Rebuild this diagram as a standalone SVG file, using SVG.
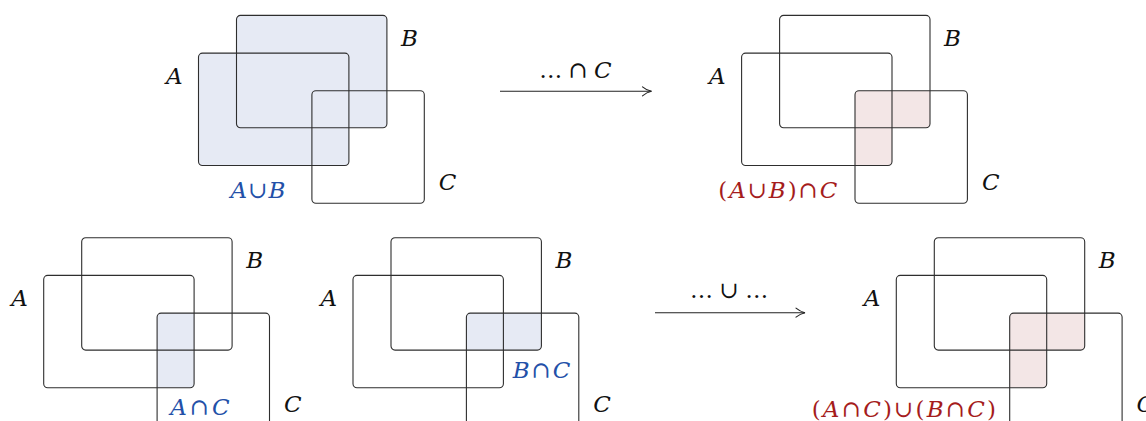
<svg xmlns="http://www.w3.org/2000/svg" width="1146" height="421" viewBox="0 0 1146 421">
<style>
.set{fill:none;stroke:#2e2e2e;stroke-width:1.1}
.lbl{font-family:"DejaVu Serif","Liberation Serif",serif;font-style:italic;font-size:23px;fill:#111}
.op{font-style:normal}
.blue{fill:#2350a8}
.red{fill:#a51c1c}
.fb{fill:#e6eaf4}
.fr{fill:#f3e6e6}
.conn{stroke:#222;stroke-width:1.1;fill:none}
</style>
<defs>
<rect id="rA" x="-38" y="37.7" width="150.4" height="112.4" rx="4"/>
<rect id="rB" x="0" y="0" width="150.4" height="112.4" rx="4"/>
<rect id="rC" x="75.4" y="75.4" width="112.4" height="112.4" rx="4"/>
<clipPath id="clipC"><use href="#rC"/></clipPath>
<g id="sets" class="set"><use href="#rA"/><use href="#rB"/><use href="#rC"/></g>
<marker id="to" markerUnits="userSpaceOnUse" markerWidth="12" markerHeight="12" refX="0" refY="0" orient="auto" overflow="visible">
<path d="M-9,-4.5 C-6,-2 -2.5,-0.5 0,0 C-2.5,0.5 -6,2 -9,4.5" fill="none" stroke="#222" stroke-width="1.1" stroke-linecap="round"/>
</marker>
</defs>

<g id="venn-union" transform="translate(236.5,15.4)">
<use href="#rA" class="fb"/><use href="#rB" class="fb"/>
<use href="#sets"/>
<text class="lbl" x="-70.5" y="68.6">A</text>
<text class="lbl" x="164.5" y="30.6">B</text>
<text class="lbl" x="202.3" y="174.6">C</text>
<text class="lbl blue" x="-6" y="182.9" textLength="55" lengthAdjust="spacing">A<tspan class="op">∪</tspan>B</text>
</g>

<g id="venn-union-cap-c" transform="translate(779.6,15.4)">
<g clip-path="url(#clipC)"><use href="#rA" class="fr"/><use href="#rB" class="fr"/></g>
<use href="#sets"/>
<text class="lbl" x="-70.5" y="68.6">A</text>
<text class="lbl" x="164.5" y="30.6">B</text>
<text class="lbl" x="202.3" y="174.6">C</text>
<text class="lbl red" x="-61.3" y="182.9" textLength="119" lengthAdjust="spacing"><tspan class="op">(</tspan>A<tspan class="op">∪</tspan>B<tspan class="op">)∩</tspan>C</text>
</g>

<g id="venn-a-cap-c" transform="translate(81.7,237.7)">
<g clip-path="url(#clipC)"><use href="#rA" class="fb"/></g>
<use href="#sets"/>
<text class="lbl" x="-70.5" y="68.6">A</text>
<text class="lbl" x="164.5" y="30.6">B</text>
<text class="lbl" x="202.3" y="174.6">C</text>
<text class="lbl blue" x="88.5" y="177.3" textLength="59.5" lengthAdjust="spacing">A<tspan class="op">∩</tspan>C</text>
</g>

<g id="venn-b-cap-c" transform="translate(391,237.7)">
<g clip-path="url(#clipC)"><use href="#rB" class="fb"/></g>
<use href="#sets"/>
<text class="lbl" x="-70.5" y="68.6">A</text>
<text class="lbl" x="164.5" y="30.6">B</text>
<text class="lbl" x="202.3" y="174.6">C</text>
<text class="lbl blue" x="121.8" y="140" textLength="57.5" lengthAdjust="spacing">B<tspan class="op">∩</tspan>C</text>
</g>

<g id="venn-distributed" transform="translate(934.3,237.7)">
<g clip-path="url(#clipC)"><use href="#rA" class="fr"/><use href="#rB" class="fr"/></g>
<use href="#sets"/>
<text class="lbl" x="-70.5" y="68.6">A</text>
<text class="lbl" x="164.5" y="30.6">B</text>
<text class="lbl" x="202.3" y="174.6">C</text>
<text class="lbl red" x="-122.6" y="179.6" textLength="184.3" lengthAdjust="spacing"><tspan class="op">(</tspan>A<tspan class="op">∩</tspan>C<tspan class="op">)∪(</tspan>B<tspan class="op">∩</tspan>C<tspan class="op">)</tspan></text>
</g>

<g id="connectors">
<line class="conn" x1="500" y1="91.3" x2="651.5" y2="91.3" marker-end="url(#to)"/>
<text class="lbl" x="539.3" y="78.3" textLength="72.4" lengthAdjust="spacing"><tspan class="op">…∩</tspan>C</text>
<line class="conn" x1="655" y1="312.7" x2="805" y2="312.7" marker-end="url(#to)"/>
<text class="lbl op" x="690" y="298.3" textLength="78.3" lengthAdjust="spacing">…∪…</text>
</g>
</svg>
